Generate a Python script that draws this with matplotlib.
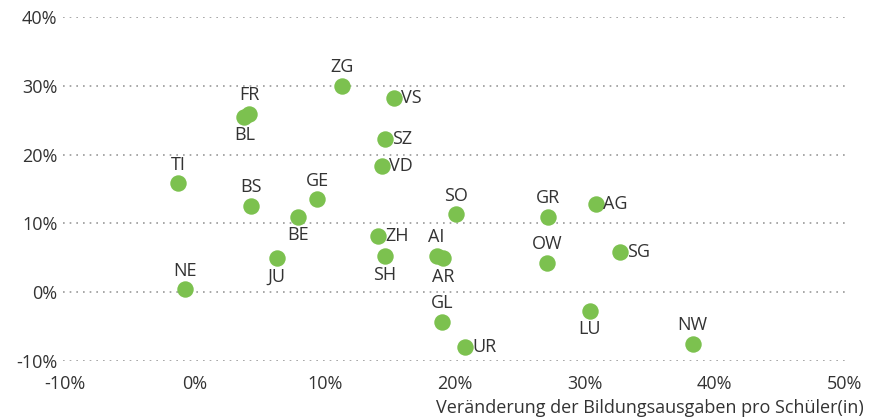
import matplotlib
matplotlib.use("Agg")
import matplotlib.pyplot as plt
from matplotlib.ticker import FuncFormatter

plt.rcParams['font.family'] = ['Open Sans', 'DejaVu Sans']

# Kantone: Veränderung Bildungsausgaben (x) vs. andere Veränderung (y), in %
kantone = ['TI', 'FR', 'BL', 'ZG', 'VS', 'SZ', 'VD', 'GE', 'BS', 'BE', 'SO', 'GR', 'AG',
           'ZH', 'SH', 'AI', 'AR', 'OW', 'SG', 'JU', 'NE', 'GL', 'UR', 'LU', 'NW']
x_werte = [-1.3, 4.2, 3.8, 11.3, 15.3, 14.6, 14.4, 9.4, 4.3, 7.9, 20.1, 27.2, 30.9,
           14.1, 14.6, 18.6, 19.1, 27.1, 32.7, 6.3, -0.8, 19.0, 20.8, 30.4, 38.3]
y_werte = [15.8, 25.9, 25.5, 30.0, 28.2, 22.3, 18.3, 13.5, 12.6, 11.0, 11.3, 11.0, 12.8,
           8.2, 5.2, 5.3, 5.0, 4.3, 5.9, 5.0, 0.4, -4.3, -8.0, -2.7, -7.5]
# wo das Label steht: o = oben, u = unten, r = rechts
label_pos = ['o', 'o', 'u', 'o', 'r', 'r', 'r', 'o', 'o', 'u', 'o', 'o', 'r',
             'r', 'u', 'o', 'u', 'o', 'r', 'u', 'o', 'o', 'r', 'u', 'o']

x_ticks = [-10, 0, 10, 20, 30, 40, 50]
y_ticks = [-10, 0, 10, 20, 30, 40]

gruen = '#7cc14f'
text_farbe = '#333333'
fs = 13

fig = plt.figure(figsize=(8.77, 4.19), dpi=100)
ax = fig.add_axes([63 / 877, 1 - 361 / 419, (846 - 63) / 877, (361 - 17) / 419])

ax.scatter(x_werte, y_werte, s=140, color=gruen, zorder=3, clip_on=False, linewidths=0)

for name, x, y, pos in zip(kantone, x_werte, y_werte, label_pos):
    if pos == 'o':
        ax.annotate(name, (x, y), xytext=(0, 7), textcoords='offset points',
                    ha='center', va='bottom', fontsize=fs, color=text_farbe)
    elif pos == 'u':
        ax.annotate(name, (x, y), xytext=(0, -7), textcoords='offset points',
                    ha='center', va='top', fontsize=fs, color=text_farbe)
    else:
        ax.annotate(name, (x, y), xytext=(5, 0), textcoords='offset points',
                    ha='left', va='center', fontsize=fs, color=text_farbe)

ax.set_xlim(-10.15, 50.1)
ax.set_ylim(-10, 40)
ax.set_xticks(x_ticks)
ax.set_yticks(y_ticks)
pct = FuncFormatter(lambda v, p: '%d%%' % v)
ax.xaxis.set_major_formatter(pct)
ax.yaxis.set_major_formatter(pct)
ax.tick_params(length=0, labelsize=fs, labelcolor=text_farbe)
ax.tick_params(axis='x', pad=10)
ax.tick_params(axis='y', pad=4)
ax.grid(axis='y', linestyle=(0, (1, 3)), color='#999999', linewidth=1.2)
ax.grid(axis='x', visible=False)
for s in ax.spines.values():
    s.set_visible(False)

fig.text(864 / 877, 1 - 408 / 419, 'Veränderung der Bildungsausgaben pro Schüler(in)',
         ha='right', va='center', fontsize=fs, color=text_farbe)

fig.savefig('out.png', dpi=100)
